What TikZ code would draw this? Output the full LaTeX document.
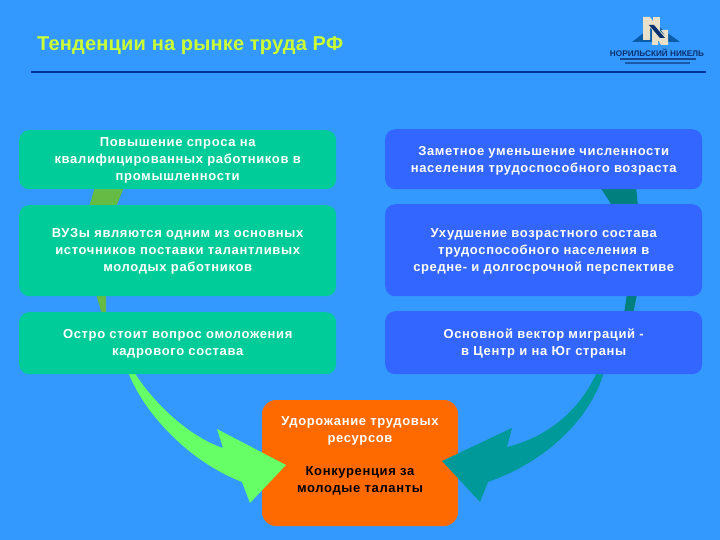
\documentclass[tikz,border=0pt]{standalone}
\usepackage{fontspec}
\setmainfont{Liberation Sans}
\newfontfamily\bodyfont[LetterSpace=5]{Liberation Sans}
\newfontfamily\titlefont[LetterSpace=1]{Liberation Sans}
\definecolor{bgblue}{HTML}{3399FF}
\definecolor{boxgreen}{HTML}{00CC99}
\definecolor{boxblue}{HTML}{3366FF}
\definecolor{boxorange}{HTML}{FF6A00}
\definecolor{arrowlight}{HTML}{66FF66}
\definecolor{arrowdim}{HTML}{66BB44}
\definecolor{arrowteal}{HTML}{009999}
\definecolor{arrowdeep}{HTML}{007F7F}
\definecolor{titleyellow}{HTML}{CCFF33}
\definecolor{ruleblue}{HTML}{003399}
\definecolor{logoblue}{HTML}{0B5CA8}
\definecolor{logocream}{HTML}{E8E0C8}
\definecolor{logotext}{HTML}{0A2F6E}
\tikzset{
 infotext/.style={align=center,font=\bodyfont\bfseries\fontsize{13}{17}\selectfont,inner sep=0pt},
 infobox/.style={rounded corners=10pt,minimum width=317pt,anchor=north west,inner sep=0pt},
 greenbox/.style={infobox,fill=boxgreen},
 bluebox/.style={infobox,fill=boxblue},
 boxlabel/.style={infotext,text=white},
}
\begin{document}
\begin{tikzpicture}[x=1pt,y=-1pt]
\useasboundingbox (0,0) rectangle (720,540);
\fill[bgblue] (0,0) rectangle (720,540);
% title
\node[anchor=west,text=titleyellow,font=\titlefont\bfseries\fontsize{20}{22}\selectfont,inner sep=0pt] (title) at (37,46) {Тенденции на рынке труда РФ};
\coordinate (ruleL) at (31,72);
\coordinate (ruleR) at (706,72);
\draw[ruleblue,line width=1.3pt] (ruleL) -- (ruleR);
% logo
\fill[logoblue] (632,42) -- (655,24) -- (680,42) -- cycle;
\fill[logocream] (643,17) -- (650,17) -- (660,31) -- (653,31) -- (650,27) -- (650,40) -- (643,40) -- cycle;
\fill[logocream] (653,17) rectangle (660,31);
\fill[logocream] (652,30) -- (659,30) -- (667,38) -- (661,30) -- (668,30) -- (668,45) -- (661,45) -- (658,40) -- (658,45) -- (652,45) -- cycle;
\fill[logotext] (649,25) -- (654,25) -- (665,38) -- (660,38) -- cycle;
\node[font=\bfseries\fontsize{8.2}{8}\selectfont,text=logotext,inner sep=0pt] (logotitle) at (657,53) {НОРИЛЬСКИЙ НИКЕЛЬ};
\fill[logotext,opacity=.75] (620,58) rectangle (696,60);
\fill[logotext,opacity=.6] (625,62) rectangle (690,64);
% result box, under the arrow tips
\fill[boxorange,rounded corners=14pt] (262,400) rectangle (458,526);
% arrows (behind the other boxes)
\fill[arrowdim] (95,187) -- (124,187) -- (116,207) -- (89,207) -- cycle;
\fill[arrowdim] (96,294) -- (106,294) -- (106,314) -- (102,314) -- cycle;
\fill[arrowdeep] (600,187) -- (636,187) -- (638,207) -- (613,207) -- cycle;
\fill[arrowdeep] (627,294) -- (637,294) -- (633,314) -- (624,314) -- cycle;
\fill[arrowlight] (128,372) .. controls (145,415) and (190,462) .. (242,482) -- (250,503) -- (286,465) -- (217,429) -- (223,448) .. controls (190,437) and (155,405) .. (134,372) -- cycle;
\fill[arrowteal] (604,372) .. controls (590,420) and (545,462) .. (488,482) -- (480,502) -- (442,461) -- (512,428) -- (507,447) .. controls (548,437) and (580,410) .. (597,372) -- cycle;
% boxes
\node[greenbox,minimum height=59pt] (g1) at (19,130) {};
\node[greenbox,minimum height=91pt] (g2) at (19,205) {};
\node[greenbox,minimum height=62pt] (g3) at (19,312) {};
\node[bluebox,minimum height=60pt] (b1) at (385,129) {};
\node[bluebox,minimum height=92pt] (b2) at (385,204) {};
\node[bluebox,minimum height=63pt] (b3) at (385,311) {};
\node[boxlabel] (g1t) at ([yshift=-1pt]g1.center) {Повышение спроса на\\квалифицированных работников в\\промышленности};
\node[boxlabel] (g2t) at ([yshift=-0.5pt]g2.center) {ВУЗы являются одним из основных\\источников поставки талантливых\\молодых работников};
\node[boxlabel] (g3t) at ([yshift=-0.5pt]g3.center) {Остро стоит вопрос омоложения\\кадрового состава};
\node[boxlabel] (b1t) at ([yshift=-1.5pt]b1.center) {Заметное уменьшение численности\\населения трудоспособного возраста};
\node[boxlabel] (b2t) at ([yshift=-1.5pt]b2.center) {Ухудшение возрастного состава\\трудоспособного населения в\\средне- и долгосрочной перспективе};
\node[boxlabel] (b3t) at ([yshift=-0.5pt]b3.center) {Основной вектор миграций -\\в Центр и на Юг страны};
\node[infotext,text=white] (o1) at (360,431) {Удорожание трудовых\\ресурсов};
\node[infotext,text=black] (o2) at (360,481) {Конкуренция за\\молодые таланты};
\end{tikzpicture}
\end{document}
